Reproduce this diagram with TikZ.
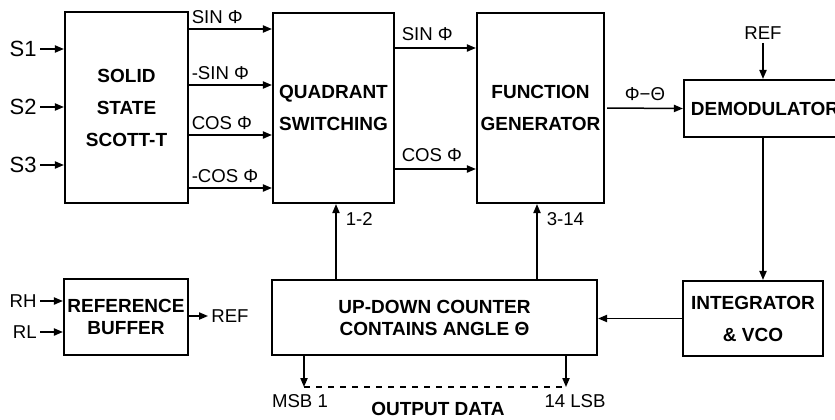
\documentclass[tikz,border=0pt]{standalone}
\usepackage{fontspec}
\setmainfont{Liberation Sans}
\usetikzlibrary{arrows.meta}

\begin{document}
\begin{tikzpicture}[x=0.5pt, y=-0.5pt,
    blk/.style={draw, line width=1.1pt, align=center, inner sep=0pt, font=\fontsize{9.5}{16}\selectfont\bfseries},
    lbl/.style={font=\fontsize{9.3}{11}\selectfont, inner sep=1.5pt},
    sig/.style={line width=0.75pt, -{Triangle[length=4.5pt,width=3.6pt]}}]
    \useasboundingbox (0,0) rectangle (835,419);

    % blocks
    \node[blk, minimum width=61.5pt, minimum height=95.5pt] (scott) at (126.5,107.5) {SOLID\\STATE\\SCOTT-T};
    \node[blk, minimum width=60.5pt, minimum height=95pt] (quad) at (333.5,108) {QUADRANT\\SWITCHING};
    \node[blk, minimum width=63.5pt, minimum height=95pt] (func) at (540.5,108) {FUNCTION\\GENERATOR};
    \node[blk, minimum width=81pt, minimum height=28.5pt] (demod) at (765,108.5) {DEMODULATOR};
    \node[blk, minimum width=70pt, minimum height=37.5pt] (integ) at (753,318.5) {INTEGRATOR\\\& VCO};
    \node[blk, minimum width=162.5pt, minimum height=37.5pt, font=\fontsize{9.5}{11}\selectfont\bfseries] (count) at (434.5,317.5) {UP-DOWN COUNTER\\CONTAINS ANGLE Θ};
    \node[blk, minimum width=62pt, minimum height=38pt, font=\fontsize{9.5}{11}\selectfont\bfseries] (rbuf) at (126,317) {REFERENCE\\BUFFER};

    % synchro inputs
    \node[lbl, font=\fontsize{11}{13}\selectfont, anchor=east] (s1) at (40,49) {S1};
    \node[lbl, font=\fontsize{11}{13}\selectfont, anchor=east] (s2) at (40,107) {S2};
    \node[lbl, font=\fontsize{11}{13}\selectfont, anchor=east] (s3) at (40,165) {S3};
    \draw[sig] (s1) -- (s1 -| scott.west);
    \draw[sig] (s2) -- (s2 -| scott.west);
    \draw[sig] (s3) -- (s3 -| scott.west);

    % scott-t outputs
    \coordinate (o1) at (188,29);
    \coordinate (o2) at (188,85);
    \coordinate (o3) at (188,135);
    \coordinate (o4) at (188,188);
    \draw[sig] (o1) -- (o1 -| quad.west) node[lbl, pos=0, anchor=south west, yshift=1pt] {SIN Φ};
    \draw[sig] (o2) -- (o2 -| quad.west) node[lbl, pos=0, anchor=south west, yshift=1pt] {-SIN Φ};
    \draw[sig] (o3) -- (o3 -| quad.west) node[lbl, pos=0, anchor=south west, yshift=1pt] {COS Φ};
    \draw[sig] (o4) -- (o4 -| quad.west) node[lbl, pos=0, anchor=south west, yshift=1pt] {-COS Φ};

    % quadrant outputs
    \coordinate (q1) at (394,48);
    \coordinate (q2) at (394,169);
    \draw[sig] (q1) -- (q1 -| func.west) node[lbl, pos=0, anchor=south west, xshift=2pt, yshift=2pt] {SIN Φ};
    \draw[sig] (q2) -- (q2 -| func.west) node[lbl, pos=0, anchor=south west, xshift=2pt, yshift=2pt] {COS Φ};

    % error signal
    \coordinate (f1) at (607,108);
    \draw[sig] (f1) -- (demod.west) node[lbl, midway, above, yshift=2pt] {Φ−Θ};
    \node[lbl] (ref2) at (763,33) {REF};
    \draw[sig] (ref2) -- (ref2 |- demod.north);
    \draw[sig] (demod.south -| ref2) -- (integ.north -| ref2);
    \draw[sig] (integ.west) -- (integ.west -| count.east);

    % counter feedback
    \draw[sig] (count.north -| 336,0) -- (quad.south -| 336,0) node[lbl, pos=0.8, anchor=west, xshift=3pt] {1-2};
    \draw[sig] (count.north -| 537,0) -- (func.south -| 537,0) node[lbl, pos=0.8, anchor=west, xshift=3pt] {3-14};

    % output data
    \coordinate (msb) at (304,387);
    \coordinate (lsb) at (566,387);
    \draw[sig] (msb |- count.south) -- (msb);
    \draw[sig] (lsb |- count.south) -- (lsb);
    \draw[line width=0.6pt, dashed] (msb) -- (lsb);
    \node[lbl] (msbl) at (300,401) {MSB 1};
    \node[lbl] (lsbl) at (575,401) {14 LSB};
    \node[lbl, font=\fontsize{9.5}{11}\selectfont\bfseries] (odata) at (438,409) {OUTPUT DATA};

    % reference buffer
    \node[lbl, anchor=east] (rh) at (40,301) {RH};
    \node[lbl, anchor=east] (rl) at (40,332) {RL};
    \draw[sig] (rh) -- (rh -| rbuf.west);
    \draw[sig] (rl) -- (rl -| rbuf.west);
    \node[lbl, anchor=west] (refo) at (208,316) {REF};
    \draw[sig] (rbuf.east |- refo) -- (refo);
\end{tikzpicture}
\end{document}
